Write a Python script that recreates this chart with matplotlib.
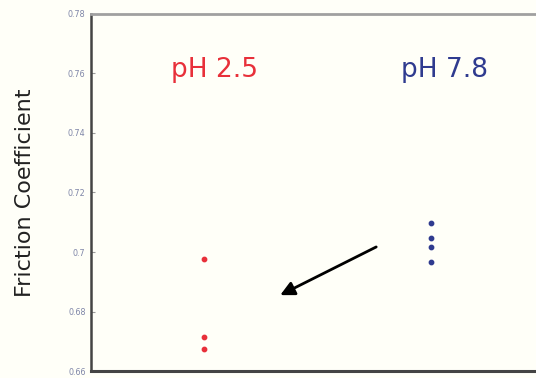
import matplotlib
matplotlib.use("Agg")
import matplotlib.pyplot as plt

# friction coefficient readings per condition
groups = ["pH 2.5", "pH 7.8"]
group_pos = [1, 2]
acid_vals = [0.6975, 0.6713, 0.6675]
neutral_vals = [0.7097, 0.7046, 0.7017, 0.6965]
yticks = [0.66, 0.68, 0.70, 0.72, 0.74, 0.76, 0.78]
ytick_labels = ["0.66", "0.68", "0.7", "0.72", "0.74", "0.76", "0.78"]

RED = "#e8303a"
BLUE = "#2f3b8f"
BG = "#fffff8"

fig = plt.figure(figsize=(5.36, 3.78), dpi=100, facecolor=BG)
ax = fig.add_axes([0.170, 0.0185, 0.83, 0.9445], facecolor=BG)

ax.scatter([group_pos[0]] * len(acid_vals), acid_vals, s=10, color=RED, zorder=3)
ax.scatter([group_pos[1]] * len(neutral_vals), neutral_vals, s=10, color=BLUE, zorder=3)

ax.text(group_pos[0] + 0.044, 0.7612, groups[0], color=RED, fontsize=19,
        ha="center", va="center")
ax.text(group_pos[1] + 0.057, 0.7612, groups[1], color=BLUE, fontsize=19,
        ha="center", va="center")

ax.annotate("", xy=(1.335, 0.6855), xytext=(1.758, 0.7017),
            arrowprops=dict(arrowstyle="-|>", mutation_scale=21, lw=2,
                            color="black", shrinkA=0, shrinkB=0))

ax.set_xlim(0.502, 2.462)
ax.set_ylim(0.66, 0.78)
ax.set_xticks([])
ax.set_yticks(yticks)
ax.set_yticklabels(ytick_labels)
ax.tick_params(axis="y", direction="in", length=3, width=0.8, color="#999999",
               labelsize=5.8, labelcolor="#7f86a8", pad=4)

ax.spines["right"].set_visible(False)
ax.spines["left"].set_color("#444444")
ax.spines["left"].set_linewidth(1.8)
ax.spines["bottom"].set_color("#444444")
ax.spines["bottom"].set_linewidth(2.2)
ax.spines["top"].set_color("#a0a0a0")
ax.spines["top"].set_linewidth(2.0)

fig.text(0.047, 0.49, "Friction Coefficient", rotation=90, fontsize=16,
         color="#222222", ha="center", va="center")

fig.savefig("out.png", dpi=100, facecolor=BG)
